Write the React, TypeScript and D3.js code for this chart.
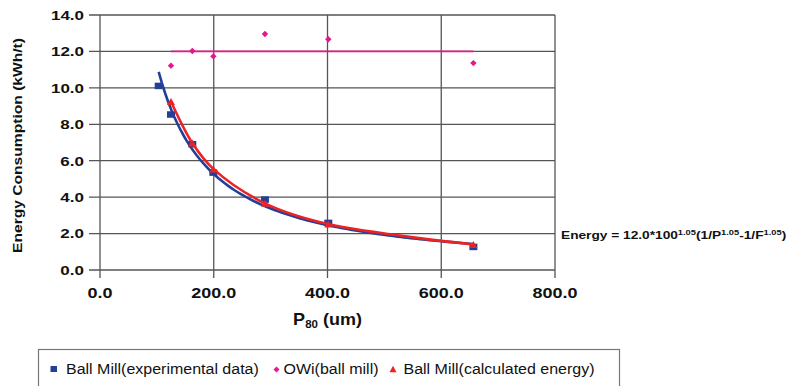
import React from "react";
import * as d3 from "d3";

// ---- data ----
const expX = [103.2, 124.8, 162.3, 199.3, 290.0, 401.4, 656.5];
const expY = [10.12, 8.55, 6.92, 5.36, 3.88, 2.6, 1.28];
const owiX = [124.8, 162.3, 199.3, 290.0, 401.4, 656.5];
const owiY = [11.22, 12.02, 11.73, 12.96, 12.67, 11.36];
const owiLineX = [124.8, 656.5];
const owiLineY = [12.0, 12.0];
const calcX = [124.8, 162.3, 199.3, 290.0, 401.4, 656.5];
const calcY = [9.25, 6.97, 5.55, 3.66, 2.52, 1.4];
const xTicks = [0, 200, 400, 600, 800];
const yTicks = [0, 2, 4, 6, 8, 10, 12, 14];
const legendItems = [
  "Ball Mill(experimental data)",
  "OWi(ball mill)",
  "Ball Mill(calculated energy)",
];

const BLUE = "#233f98";
const PINK = "#e6168b";
const RED = "#ec2324";
const GRID = "#555";
const FONT = "'Liberation Sans', Arial, sans-serif";

export default function App() {
  const x = d3.scaleLinear().domain([0, 800]).range([100, 555]);
  const y = d3.scaleLinear().domain([0, 14]).range([270, 15]);

  // power trendline (least squares in log space) for experimental data
  const lx = expX.map(Math.log);
  const ly = expY.map(Math.log);
  const mx = d3.mean(lx) as number;
  const my = d3.mean(ly) as number;
  const b =
    d3.sum(lx.map((v, i) => (v - mx) * (ly[i] - my))) /
    d3.sum(lx.map((v) => (v - mx) * (v - mx)));
  const a = Math.exp(my - b * mx);
  const xmin = d3.min(expX) as number;
  const xmax = d3.max(expX) as number;
  const trend = d3.range(0, 101).map((i) => {
    const xv = xmin + ((xmax - xmin) * i) / 100;
    return [xv, a * Math.pow(xv, b)] as [number, number];
  });
  const line = d3
    .line<[number, number]>()
    .x((d) => x(d[0]))
    .y((d) => y(d[1]));
  const smooth = d3
    .line<[number, number]>()
    .x((d) => x(d[0]))
    .y((d) => y(d[1]))
    .curve(d3.curveCatmullRom.alpha(0.5));

  const calcPts = calcX.map((v, i) => [v, calcY[i]] as [number, number]);
  const owiLine = owiLineX.map((v, i) => [v, owiLineY[i]] as [number, number]);

  const tri = (cx: number, cy: number, w = 8, h = 7) =>
    `M${cx},${cy - h / 2}L${cx + w / 2},${cy + h / 2}L${cx - w / 2},${cy + h / 2}Z`;
  const dia = (cx: number, cy: number, r = 3.2) =>
    `M${cx},${cy - r}L${cx + r},${cy}L${cx},${cy + r}L${cx - r},${cy}Z`;

  return (
    <svg
      width={789}
      height={386}
      style={{ position: "absolute", left: 0, top: 0, display: "block", background: "#fff" }}
      fontFamily={FONT}
    >
      <rect x={0} y={0} width={789} height={386} fill="#fff" />
      {/* grid */}
      {yTicks.map((t) => (
        <line key={"gy" + t} x1={89} x2={555} y1={y(t)} y2={y(t)} stroke={GRID} strokeWidth={1.3} />
      ))}
      {xTicks.map((t) => (
        <line key={"gx" + t} x1={x(t)} x2={x(t)} y1={y(14)} y2={278} stroke={GRID} strokeWidth={1.3} />
      ))}
      {/* y tick labels */}
      {yTicks.map((t) => (
        <text
          key={"ly" + t}
          transform={`translate(84,${y(t) + 4.8}) scale(1,0.78)`}
          textAnchor="end"
          fontWeight="bold"
          fontSize={17}
          fill="#111"
        >
          {t.toFixed(1)}
        </text>
      ))}
      {/* x tick labels */}
      {xTicks.map((t) => (
        <text
          key={"lx" + t}
          transform={`translate(${x(t)},297.5) scale(1,0.8)`}
          textAnchor="middle"
          fontWeight="bold"
          fontSize={18}
          fill="#111"
        >
          {t.toFixed(1)}
        </text>
      ))}
      {/* axis titles */}
      <text
        transform={`translate(22,145.5) rotate(-90) scale(1,0.85)`}
        textAnchor="middle"
        fontWeight="bold"
        fontSize={15.6}
        fill="#111"
        textLength={215}
        lengthAdjust="spacingAndGlyphs"
      >
        Energy Consumption (kWh/t)
      </text>
      <text
        transform={`translate(327.5,325) scale(1,0.9)`}
        textAnchor="middle"
        fontWeight="bold"
        fontSize={18}
        fill="#111"
      >
        P<tspan fontSize={11.5} dy={3}>80</tspan>
        <tspan dy={-3}> (um)</tspan>
      </text>
      {/* equation */}
      <text
        transform={`translate(561,239) scale(0.98,0.72)`}
        fontWeight="bold"
        fontSize={14}
        fill="#111"
      >
        Energy = 12.0*100
        <tspan fontSize={9.5} dy={-6}>1.05</tspan>
        <tspan dy={6}>(1/P</tspan>
        <tspan fontSize={9.5} dy={-6}>1.05</tspan>
        <tspan dy={6}>-1/F</tspan>
        <tspan fontSize={9.5} dy={-6}>1.05</tspan>
        <tspan dy={6}>)</tspan>
      </text>

      {/* blue power trendline */}
      <path d={line(trend) || ""} fill="none" stroke={BLUE} strokeWidth={2.6} />
      {/* experimental squares */}
      {expX.map((v, i) => (
        <rect key={"s" + i} x={x(v) - 4} y={y(expY[i]) - 3} width={8} height={6.5} fill={BLUE} />
      ))}
      {/* OWi line and diamonds */}
      <path d={line(owiLine) || ""} fill="none" stroke={PINK} strokeWidth={1.8} />
      {owiX.map((v, i) => (
        <path key={"d" + i} d={dia(x(v), y(owiY[i]))} fill={PINK} />
      ))}
      {/* calculated red line and triangles */}
      <path d={smooth(calcPts) || ""} fill="none" stroke={RED} strokeWidth={2.6} />
      {calcX.map((v, i) => (
        <path key={"t" + i} d={tri(x(v), y(calcY[i]))} fill={RED} />
      ))}

      {/* legend */}
      <rect x={38.5} y={349.5} width={581} height={60} fill="none" stroke="#777" strokeWidth={1.2} />
      <rect x={50.5} y={366} width={6.5} height={6} fill={BLUE} />
      <path d={dia(276.5, 369.5, 3)} fill={PINK} />
      <path d={tri(393, 369, 7, 6.5)} fill={RED} />
      {[66, 283.5, 403.5].map((tx, i) => (
        <text
          key={"lg" + i}
          transform={`translate(${tx},374) scale(1,0.87)`}
          fontSize={16}
          fill="#111"
        >
          {legendItems[i]}
        </text>
      ))}
    </svg>
  );
}
